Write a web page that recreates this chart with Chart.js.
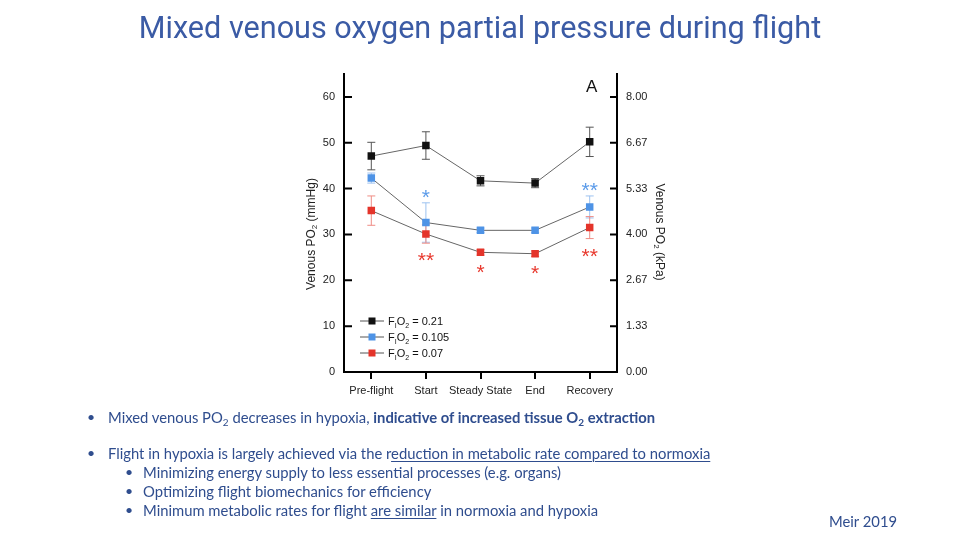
<!DOCTYPE html>
<html>
<head>
<meta charset="utf-8">
<script src="https://cdn.jsdelivr.net/npm/chart.js@4.4.1/dist/chart.umd.min.js"></script>
<style>
  body { margin: 0; background: #fff; }
  #wrap { position: relative; width: 960px; height: 540px; overflow: hidden; }
  #chart { position: absolute; left: 0; top: 0; }
  .t { position: absolute; white-space: nowrap; color: #2f4d8e; font-family: Lato, "Open Sans", sans-serif; font-size: 14.8px; line-height: 20px; }
  .title { left: 0; width: 960px; text-align: center; top: 10px; font-family: Roboto, sans-serif; font-size: 30.6px; line-height: 36px; color: #3b5ba5; }
  .dot { position: absolute; color: #2f4d8e; font-size: 14px; line-height: 20px; font-family: Lato, sans-serif; }
  u { text-decoration-thickness: 1px; text-underline-offset: 2px; }
  sub { font-size: 10px; vertical-align: -3px; line-height: 0; }
</style>
</head>
<body>
<div id="wrap">
  <canvas id="chart" width="960" height="540"></canvas>
  <div class="t title">Mixed venous oxygen partial pressure during flight</div>

  <div class="dot" style="left:87px;top:407px">•</div>
  <div class="t" style="left:108px;top:407px">Mixed venous PO<sub>2</sub> decreases in hypoxia, <b>indicative of increased tissue O<sub>2</sub> extraction</b></div>

  <div class="dot" style="left:87px;top:443px">•</div>
  <div class="t" style="left:108px;top:443px">Flight in hypoxia is largely achieved via the r<u>eduction in metabolic rate compared to normoxia</u></div>
  <div class="dot" style="left:125px;top:462px">•</div>
  <div class="t" style="left:143px;top:462px">Minimizing energy supply to less essential processes (e.g. organs)</div>
  <div class="dot" style="left:125px;top:481px">•</div>
  <div class="t" style="left:143px;top:481px">Optimizing flight biomechanics for efficiency</div>
  <div class="dot" style="left:125px;top:500px">•</div>
  <div class="t" style="left:143px;top:500px">Minimum metabolic rates for flight <u>are similar</u> in normoxia and hypoxia</div>

  <div class="t" style="left:829px;top:511px">Meir 2019</div>
</div>
<script>
// flight phases
const phases = ["Pre-flight", "Start", "Steady State", "End", "Recovery"];

// venous PO2 (mmHg), mean and error per FiO2
const po2Normoxia = [47.1, 49.4, 41.7, 41.2, 50.2];
const errNormoxia = [3.0, 3.0, 1.1, 1.0, 3.2];
const po2Mid = [42.3, 32.6, 30.9, 30.9, 36.0];
const errMid = [1.1, 4.3, 0.5, 0.5, 2.4];
const po2Low = [35.2, 30.1, 26.1, 25.8, 31.5];
const errLow = [3.2, 2.0, 0.6, 0.6, 2.4];

// significance marks
const sigMid = ["", "*", "", "", "**"];
const sigLow = ["", "**", "*", "*", "**"];

// right axis tick labels (kPa) for 0..60 mmHg
const kpaLabels = ["0.00", "1.33", "2.67", "4.00", "5.33", "6.67", "8.00"];
const legendValues = ["0.21", "0.105", "0.07"];

const BLACK = "#111111", BLUE = "#4e93e6", RED = "#e4342a";
const FONT = "'Liberation Sans', Arial, sans-serif";

const errorBars = {
  id: "errorBars",
  beforeDatasetsDraw(chart) {
    const { ctx, scales: { x, y } } = chart;
    ctx.save();
    ctx.lineWidth = 1;
    chart.data.datasets.forEach((ds) => {
      ctx.strokeStyle = ds.errColor;
      ds.data.forEach((v, j) => {
        const px = x.getPixelForValue(j);
        const top = y.getPixelForValue(v + ds.errors[j]);
        const bot = y.getPixelForValue(v - ds.errors[j]);
        ctx.beginPath();
        ctx.moveTo(px, top); ctx.lineTo(px, bot);
        ctx.moveTo(px - 4, top); ctx.lineTo(px + 4, top);
        ctx.moveTo(px - 4, bot); ctx.lineTo(px + 4, bot);
        ctx.stroke();
      });
    });
    ctx.restore();
  }
};

const extras = {
  id: "extras",
  afterDraw(chart) {
    const { ctx, chartArea: a, scales: { x, y } } = chart;
    ctx.save();
    // inward ticks on both value axes
    ctx.strokeStyle = "#000";
    ctx.lineWidth = 2;
    y.ticks.forEach((t) => {
      if (t.value % 10) return;
      const py = y.getPixelForValue(t.value);
      ctx.beginPath();
      ctx.moveTo(a.left, py); ctx.lineTo(a.left + 8, py);
      ctx.moveTo(a.right, py); ctx.lineTo(a.right - 7, py);
      ctx.stroke();
    });

    // significance asterisks
    ctx.font = "21px " + FONT;
    ctx.textAlign = "center";
    ctx.textBaseline = "alphabetic";
    const mid = chart.data.datasets[1], low = chart.data.datasets[2];
    sigMid.forEach((s, j) => {
      if (!s) return;
      ctx.fillStyle = "#5b9be9";
      const py = y.getPixelForValue(mid.data[j] + mid.errors[j]) - 11;
      ctx.fillText(s, x.getPixelForValue(j), py + 12);
    });
    sigLow.forEach((s, j) => {
      if (!s) return;
      ctx.fillStyle = "#e8392e";
      const py = y.getPixelForValue(low.data[j] - low.errors[j]) + 12;
      ctx.fillText(s, x.getPixelForValue(j), py + 12);
    });

    // panel letter
    ctx.fillStyle = "#111";
    ctx.font = "17px " + FONT;
    ctx.textBaseline = "middle";
    ctx.fillText("A", x.getPixelForValue(4) + 2, a.top + 13);

    // FiO2 text with subscripts
    const fio2 = (x0, yb, tail, size) => {
      ctx.textAlign = "left";
      ctx.textBaseline = "alphabetic";
      const sub = Math.round(size * 0.65);
      let cx = x0;
      const part = (txt, sz, dy) => {
        ctx.font = sz + "px " + FONT;
        ctx.fillText(txt, cx, yb + dy);
        cx += ctx.measureText(txt).width;
      };
      part("F", size, 0); part("I", sub, 3); part("O", size, 0); part("2", sub, 3);
      part(tail, size, 0);
    };

    // legend
    chart.data.datasets.forEach((ds, i) => {
      const ly = 321 + i * 16;
      ctx.strokeStyle = "#555";
      ctx.lineWidth = 1;
      ctx.beginPath(); ctx.moveTo(360, ly); ctx.lineTo(384, ly); ctx.stroke();
      ctx.fillStyle = ds.pointBackgroundColor;
      ctx.fillRect(368.5, ly - 3.5, 7, 7);
      ctx.fillStyle = "#111";
      fio2(388, ly + 4, " = " + legendValues[i], 11);
    });

    // axis titles
    const axisTitle = (cx, cy, rot, unit) => {
      ctx.save();
      ctx.translate(cx, cy);
      ctx.rotate(rot);
      ctx.fillStyle = "#222";
      const parts = [["Venous PO", 12, 0], ["2", 8, 3], [" (" + unit + ")", 12, 0]];
      let w = 0;
      parts.forEach((p) => { ctx.font = p[1] + "px " + FONT; w += ctx.measureText(p[0]).width; });
      let px = -w / 2;
      ctx.textAlign = "left";
      ctx.textBaseline = "middle";
      parts.forEach((p) => {
        ctx.font = p[1] + "px " + FONT;
        ctx.fillText(p[0], px, p[2]);
        px += ctx.measureText(p[0]).width;
      });
      ctx.restore();
    };
    axisTitle(312, 234, -Math.PI / 2, "mmHg");
    axisTitle(659, 232, Math.PI / 2, "kPa");
    ctx.restore();
  }
};

const series = (data, errors, color, errColor) => ({
  data,
  errors,
  errColor,
  borderColor: "#666",
  borderWidth: 1,
  pointStyle: "rect",
  pointRadius: 5.3,
  pointHoverRadius: 5.3,
  pointBackgroundColor: color,
  pointBorderColor: color,
  pointBorderWidth: 0,
  tension: 0
});

new Chart(document.getElementById("chart"), {
  type: "line",
  data: {
    labels: phases,
    datasets: [
      series(po2Normoxia, errNormoxia, BLACK, "#555"),
      series(po2Mid, errMid, BLUE, "#9dc2f0"),
      series(po2Low, errLow, RED, "#ef8d85")
    ]
  },
  options: {
    responsive: false,
    animation: false,
    events: [],
    layout: { padding: { left: 300, top: 74, right: 300, bottom: 140 } },
    plugins: { legend: { display: false }, tooltip: { enabled: false } },
    scales: {
      x: {
        offset: true,
        grid: { display: true, offset: false, drawOnChartArea: false, drawTicks: true, tickLength: 7, color: "#000", lineWidth: 2 },
        border: { display: true, color: "#000", width: 2 },
        ticks: { color: "#222", font: { family: FONT, size: 11 }, padding: 5, maxRotation: 0, autoSkip: false },
        afterFit: (s) => { s.height = 28; }
      },
      y: {
        position: "left",
        min: 0, max: 65,
        grid: { display: true, drawOnChartArea: false, drawTicks: false },
        border: { display: true, color: "#000", width: 2 },
        ticks: { stepSize: 10, includeBounds: false, color: "#222", font: { family: FONT, size: 11 }, padding: 9,
          callback: (v) => (v % 10 ? null : v) },
        afterFit: (s) => { s.width = 44; }
      },
      y2: {
        position: "right",
        min: 0, max: 65,
        grid: { display: true, drawOnChartArea: false, drawTicks: false },
        border: { display: true, color: "#000", width: 2 },
        ticks: { stepSize: 10, includeBounds: false, color: "#222", font: { family: FONT, size: 11 }, padding: 9,
          callback: (v) => (v % 10 ? null : kpaLabels[v / 10]) },
        afterFit: (s) => { s.width = 43; }
      }
    }
  },
  plugins: [errorBars, extras]
});
</script>
</body>
</html>
